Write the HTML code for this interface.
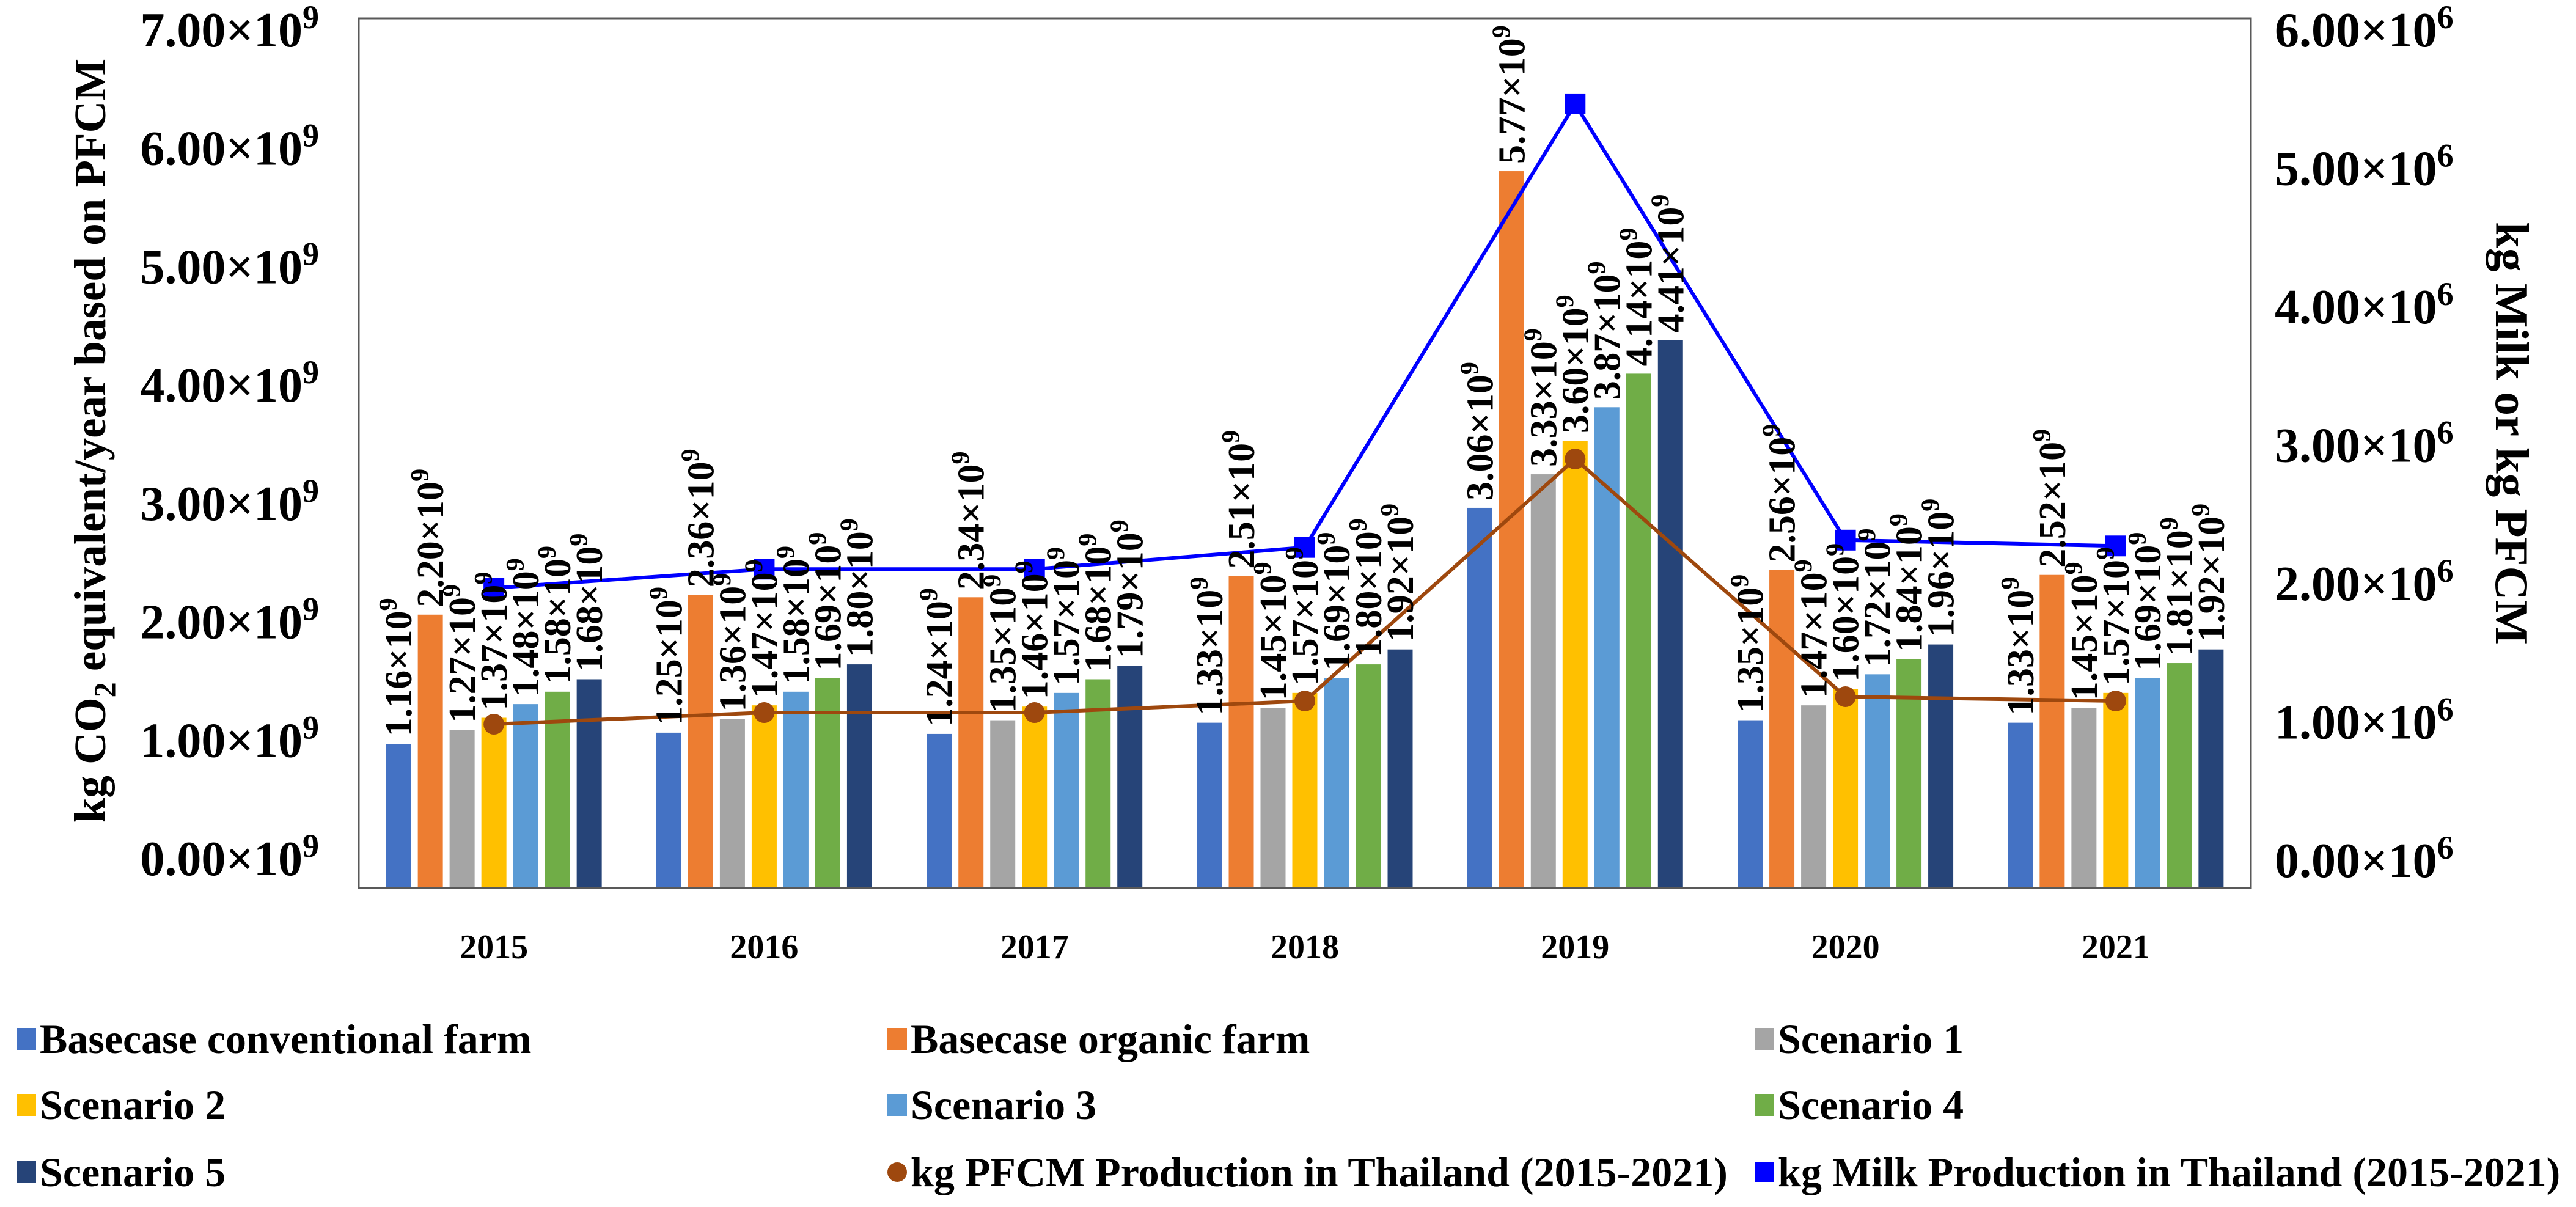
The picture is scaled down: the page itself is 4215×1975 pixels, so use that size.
<!DOCTYPE html>
<html><head><meta charset="utf-8"><style>
html,body{margin:0;padding:0;background:#fff;}
svg{display:block;font-family:"Liberation Serif","Times New Roman",serif;font-weight:bold;}
</style></head><body>
<svg id="chart" width="4215" height="1975" viewBox="0 0 4215 1975" xmlns="http://www.w3.org/2000/svg">
<rect x="0" y="0" width="4215" height="1975" fill="#fff"/>
<g id="plot"></g>
<rect x="587" y="30" width="3096" height="1423" fill="none" stroke="#595959" stroke-width="3"/>
<text transform="translate(172,721) rotate(-90)" text-anchor="middle" font-size="73">kg CO<tspan font-size="50" dy="16">2</tspan><tspan dy="-16"> equivalent/year based on PFCM</tspan></text>
<text transform="translate(4084,709) rotate(90)" text-anchor="middle" font-size="77">kg Milk or kg PFCM</text>
<g id="legend"></g>
</svg>
<script>
const years = ['2015','2016','2017','2018','2019','2020','2021'];
const seriesNames = ['Basecase conventional farm','Basecase organic farm','Scenario 1','Scenario 2','Scenario 3','Scenario 4','Scenario 5'];
const conventional = [1.16,1.25,1.24,1.33,3.06,1.35,1.33];
const organic = [2.20,2.36,2.34,2.51,5.77,2.56,2.52];
const scenario1 = [1.27,1.36,1.35,1.45,3.33,1.47,1.45];
const scenario2 = [1.37,1.47,1.46,1.57,3.60,1.60,1.57];
const scenario3 = [1.48,1.58,1.57,1.69,3.87,1.72,1.69];
const scenario4 = [1.58,1.69,1.68,1.80,4.14,1.84,1.81];
const scenario5 = [1.68,1.80,1.79,1.92,4.41,1.96,1.92];
const milk = [2.07,2.20,2.20,2.35,5.41,2.40,2.36];
const pfcm = [1.13,1.21,1.21,1.29,2.96,1.32,1.29];
const leftTicks = ['0.00','1.00','2.00','3.00','4.00','5.00','6.00','7.00'];
const rightTicks = ['0.00','1.00','2.00','3.00','4.00','5.00','6.00'];
const colors = ['#4472C4','#ED7D31','#A5A5A5','#FFC000','#5B9BD5','#70AD47','#264478'];

const NS='http://www.w3.org/2000/svg';
const PL=587, PR=3683, PT=30, PB=1453;
const yL = v => PB - v/7*(PB-PT);
const yR = v => PB - v/6*(PB-PT);
const yLlab = v => 1405 - v/7*1356;
const yRlab = v => 1408 - v/6*1359;
const catW=(PR-PL)/years.length;
const xC = i => PL + (i+0.5)*catW;
const step=52, bw=41;
const xBar = (i,s) => xC(i) - 3*step - bw/2 + s*step;
function mk(tag, attrs, parent){const e=document.createElementNS(NS,tag);for(const k in attrs)e.setAttribute(k,attrs[k]);parent.appendChild(e);return e;}
const plot=document.getElementById('plot');
const legend=document.getElementById('legend');
const all=[conventional,organic,scenario1,scenario2,scenario3,scenario4,scenario5];

leftTicks.forEach((t)=>{
  const e=mk('text',{x:522,y:yLlab(+t)+27,'text-anchor':'end','font-size':'80'},plot);
  
  
  e.innerHTML=t+'×10<tspan font-size="54" dy="-30">9</tspan>';
});
rightTicks.forEach((t)=>{
  const e=mk('text',{x:3722,y:yRlab(+t)+27,'text-anchor':'start','font-size':'80'},plot);
  
  
  e.innerHTML=t+'×10<tspan font-size="54" dy="-30">6</tspan>';
});
years.forEach((y,i)=>{
  const e=mk('text',{x:xC(i),y:1568,'text-anchor':'middle','font-size':'56'},plot);
  
  
  e.textContent=y;
});
all.forEach((arr,s)=>{
  arr.forEach((v,i)=>{
    const r=mk('rect',{x:xBar(i,s),y:yL(v),width:bw,height:PB-yL(v),fill:colors[s]},plot);
    
    
  });
});
function line(arr,color,fn,marker,name){
  const pts=arr.map((v,i)=>xC(i)+','+fn(v)).join(' ');
  const p=mk('polyline',{points:pts,fill:'none',stroke:color,'stroke-width':6},plot);
  
  
  arr.forEach((v,i)=>{
    let m;
    if(marker==='sq') m=mk('rect',{x:xC(i)-17,y:fn(v)-17,width:34,height:34,fill:color},plot);
    else m=mk('circle',{cx:xC(i),cy:fn(v),r:17,fill:color},plot);
    
    
  });
}
line(pfcm,'#9E480E',yR,'c','pfcm');
line(milk,'#0000FF',yR,'sq','milk');
all.forEach((arr,s)=>{
  arr.forEach((v,i)=>{
    const x=xBar(i,s)+bw/2+21, y=yL(v)-12;
    const e=mk('text',{transform:'translate('+x+','+y+') rotate(-90)','font-size':'62'},plot);
    
    
    e.innerHTML=v.toFixed(2)+'×10<tspan font-size="42" dy="-24">9</tspan>';
  });
});
const legItems=[[0,'bar'],[1,'bar'],[2,'bar'],[3,'bar'],[4,'bar'],[5,'bar'],[6,'bar'],['#9E480E','circle','kg PFCM Production in Thailand (2015-2021)'],['#0000FF','sq','kg Milk Production in Thailand (2015-2021)']];
const colX=[27,1452,2871], rowY=[1700,1808,1918];
legItems.forEach((it,k)=>{
  const cx=colX[k%3], cy=rowY[Math.floor(k/3)];
  const g=mk('g',{},legend);
  
  
  let label;
  if(it[1]==='bar'){mk('rect',{x:cx,y:cy-18,width:32,height:36,fill:colors[it[0]]},g);label=seriesNames[it[0]];}
  else if(it[1]==='circle'){mk('circle',{cx:cx+16,cy:cy,r:16,fill:it[0]},g);label=it[2];}
  else {mk('rect',{x:cx,y:cy-16,width:32,height:32,fill:it[0]},g);label=it[2];}
  const t=mk('text',{x:cx+38,y:cy+23,'font-size':'68'},g);
  t.textContent=label;
});
</script>
</body></html>
